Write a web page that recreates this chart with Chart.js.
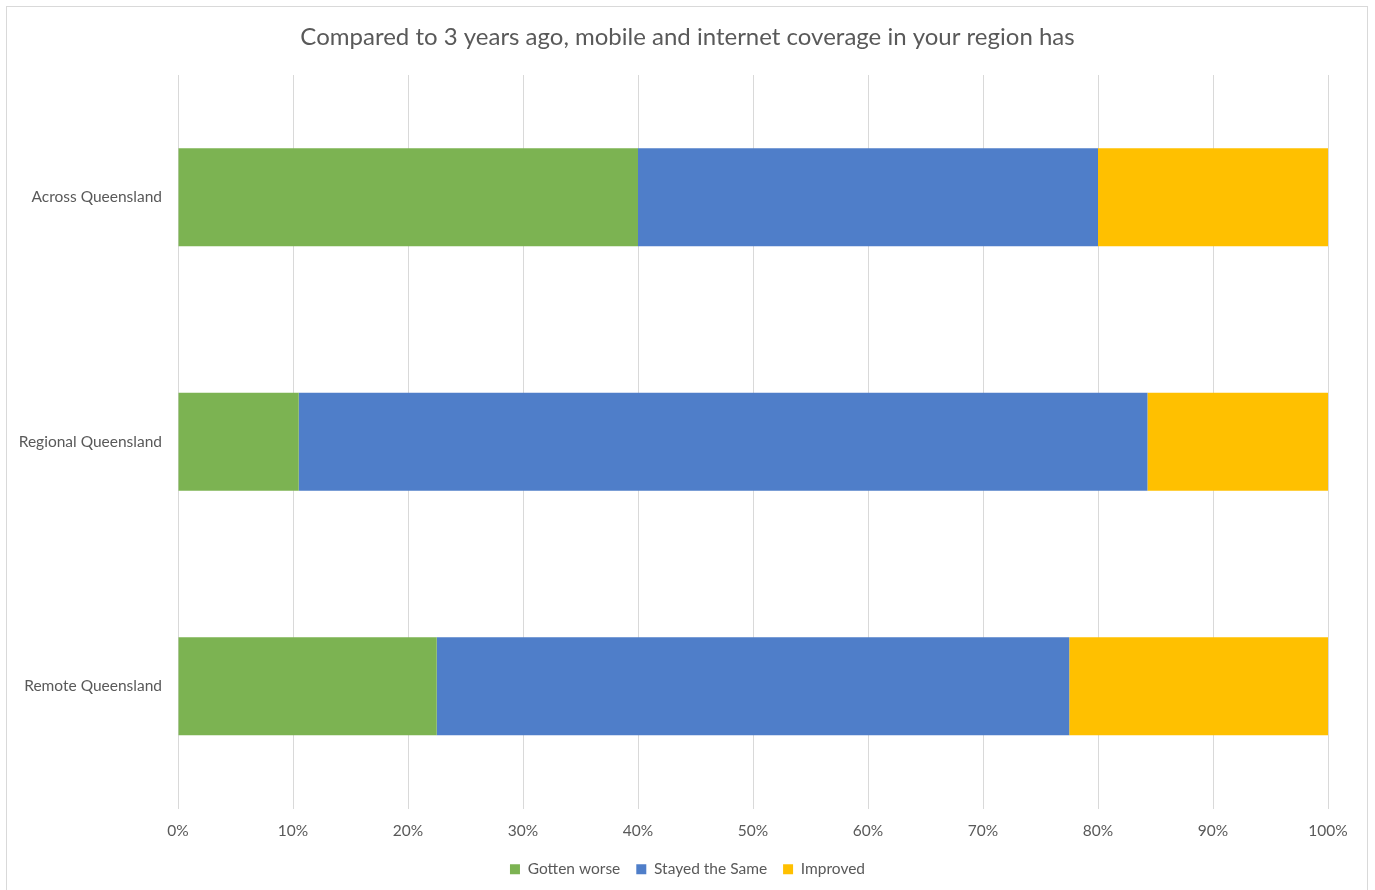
<html>
    <head>
        <title>Mobile and internet coverage</title>
        <script src="https://cdn.jsdelivr.net/npm/chart.js@4.4.1/dist/chart.umd.min.js"></script>
        <style>
            body { margin: 0; background: #ffffff; }
        </style>
    </head>
    <body>
        <div style="position: relative; width: 1375px; height: 890px">
            <canvas id="myChart" width="1375" height="890"></canvas>
        </div>
 	<script type="text/javascript">
 	var regions = ["Across Queensland", "Regional Queensland", "Remote Queensland"];
 	var gottenWorse = [40, 10.5, 22.5];
 	var stayedSame = [40, 73.8, 55];
 	var improved = [20, 15.7, 22.5];
 	var seriesNames = ["Gotten worse", "Stayed the Same", "Improved"];
 	var xTicks = [0, 10, 20, 30, 40, 50, 60, 70, 80, 90, 100];

 	var FONT = "Lato, 'Open Sans', sans-serif";
 	var GREY = '#595959';

 	// outer frame like the exported chart area
 	var framePlugin = {
 		id: 'frame',
 		beforeDraw: function(chart) {
 			var c = chart.ctx;
 			c.save();
 			c.fillStyle = '#ffffff';
 			c.fillRect(0, 0, chart.width, chart.height);
 			c.strokeStyle = '#d9d9d9';
 			c.lineWidth = 1;
 			c.strokeRect(6.5, 6.5, 1361, 900);
 			c.restore();
 		}
 	};

 	var ctx = document.getElementById("myChart").getContext('2d');

 	var myChart = new Chart(ctx, {
 		type: 'bar',
 		data: {
 			labels: regions,
 			datasets: [{
 				label: seriesNames[0],
 				data: gottenWorse,
 				backgroundColor: '#7cb352'
 			}, {
 				label: seriesNames[1],
 				data: stayedSame,
 				backgroundColor: '#4f7ec9'
 			}, {
 				label: seriesNames[2],
 				data: improved,
 				backgroundColor: '#ffc000'
 			}]
 		},
 		options: {
 			indexAxis: 'y',
 			responsive: false,
 			animation: false,
 			layout: { padding: { left: 0, right: 0, top: 0, bottom: 3 } },
 			datasets: {
 				bar: {
 					categoryPercentage: 1,
 					barPercentage: 0.4,
 					borderWidth: 0
 				}
 			},
 			scales: {
 				x: {
 					stacked: true,
 					min: 0,
 					max: 100,
 					afterBuildTicks: function(axis) {
 						axis.ticks = xTicks.map(function(v) { return { value: v }; });
 					},
 					afterFit: function(axis) { axis.height = 37; },
 					grid: { color: '#d9d9d9', drawTicks: false },
 					border: { display: false },
 					ticks: {
 						padding: 13,
 						color: GREY,
 						font: { family: FONT, size: 15.5 },
 						maxRotation: 0,
 						callback: function(v) { return v + '%'; }
 					}
 				},
 				y: {
 					stacked: true,
 					afterFit: function(axis) { axis.width = 178; },
 					grid: { display: false, drawTicks: false },
 					border: { display: false },
 					ticks: {
 						padding: 16,
 						color: GREY,
 						font: { family: FONT, size: 15.5 }
 					}
 				},
 				// empty spacer on the right so the plot ends at 100% before the frame
 				spacer: {
 					type: 'category',
 					labels: regions,
 					position: 'right',
 					afterFit: function(axis) { axis.width = 47; },
 					grid: { display: false, drawTicks: false },
 					border: { display: false },
 					ticks: { display: false }
 				}
 			},
 			plugins: {
 				title: {
 					display: true,
 					text: 'Compared to 3 years ago, mobile and internet coverage in your region has',
 					color: GREY,
 					font: { family: FONT, size: 24, weight: 'normal' },
 					padding: { top: 23, bottom: 23.2 }
 				},
 				legend: {
 					position: 'bottom',
 					labels: {
 						boxWidth: 10,
 						boxHeight: 10,
 						color: GREY,
 						padding: 16,
 						font: { family: FONT, size: 15.5 }
 					}
 				},
 				tooltip: { enabled: false }
 			}
 		},
 		plugins: [framePlugin]
 	});
 	</script>
    </body>
</html>
